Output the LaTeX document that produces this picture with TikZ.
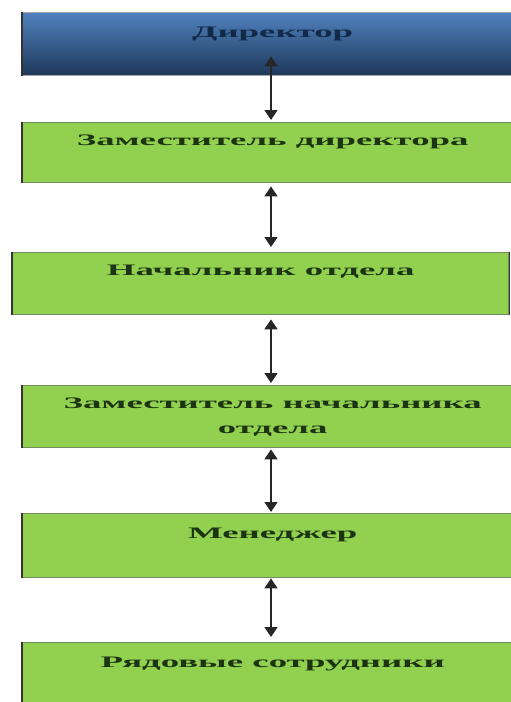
\documentclass[tikz,border=0pt]{standalone}
\usepackage{fontspec}
\setmainfont{Liberation Serif}[FakeStretch=2.3]
\usetikzlibrary{arrows.meta}
\definecolor{boxgreen}{RGB}{146,208,80}
\definecolor{edgegreen}{RGB}{112,140,88}
\definecolor{topblue}{RGB}{79,129,189}
\definecolor{botblue}{RGB}{31,56,90}
\definecolor{txtgreen}{RGB}{28,52,18}
\definecolor{txtblue}{RGB}{18,42,72}
\tikzset{
  box/.style={rectangle, anchor=north west, fill=boxgreen, draw=edgegreen, line width=1.4pt,
    minimum width=500, inner xsep=0pt, inner ysep=0pt, text=txtgreen,
    font=\fontsize{16}{25}\selectfont\bfseries, align=center},
  conn/.style={{Triangle[length=10pt,width=13pt]}-{Triangle[length=10pt,width=13pt]}, line width=1.7pt, black!85}
}
\begin{document}
\begin{tikzpicture}[x=1pt,y=-1pt]
\useasboundingbox (0,0) rectangle (511,702);
\clip (0,0) rectangle (511,702);
\fill[white] (0,0) rectangle (511,702);
% Director
\node[box, top color=topblue, bottom color=botblue, draw=gray!70, text=txtblue,
  text height=25, text depth=38] (dir) at (22,12) {Директор};
\node[box, text height=23, text depth=37] (zam) at (22,122) {Заместитель директора};
\node[box, minimum width=496, text height=23, text depth=39] (nach) at (12,252) {Начальник отдела};
\node[box, minimum height=62] (zamnach) at (22,385) {Заместитель начальника\\отдела};
\node[box, text height=25, text depth=39] (man) at (22,513) {Менеджер};
\node[box, text height=25, text depth=45] (emp) at (22,642) {Рядовые сотрудники};
% dark side edges
\foreach \n in {dir,zam,nach,zamnach,man,emp}
  \draw[line width=1.6pt, black!80] (\n.north west) -- (\n.south west);
\draw[line width=1.6pt, black!80] (nach.north east) -- (nach.south east);
% connectors
\draw[conn] ([xshift=249pt,yshift=20pt]dir.south west) -- ([xshift=249pt,yshift=2pt]zam.north west);
\draw[conn] ([xshift=249pt,yshift=-3pt]zam.south west) -- ([xshift=259pt,yshift=5pt]nach.north west);
\draw[conn] ([xshift=259pt,yshift=-4pt]nach.south west) -- ([xshift=249pt,yshift=2pt]zamnach.north west);
\draw[conn] ([xshift=249pt,yshift=-1pt]zamnach.south west) -- ([xshift=249pt,yshift=1pt]man.north west);
\draw[conn] ([xshift=249pt,yshift=0pt]man.south west) -- ([xshift=249pt,yshift=5pt]emp.north west);
\end{tikzpicture}
\end{document}
